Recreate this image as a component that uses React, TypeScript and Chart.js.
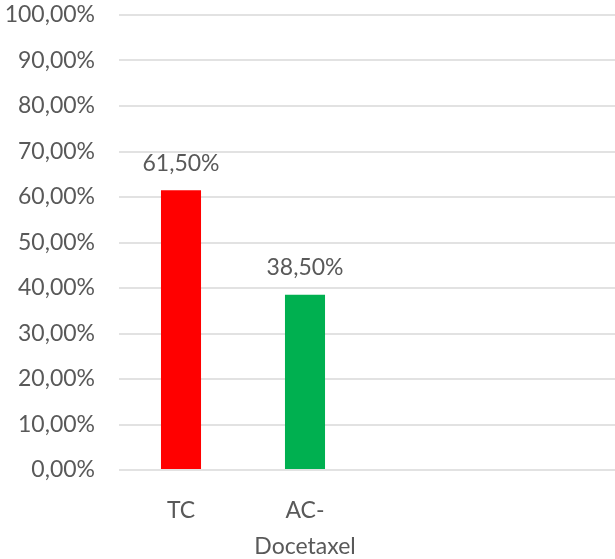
import React, { useEffect, useRef } from "react";
import { Chart, registerables } from "chart.js";

Chart.register(...registerables);

// Regimens compared, with two empty slots kept on the axis
const categories: (string | string[])[] = ["TC", ["AC-", "Docetaxel"], "", ""];
// Share of patients per regimen, in percent
const shares: (number | null)[] = [61.5, 38.5, null, null];
const barColors = ["#FF0000", "#00B050", "#FF0000", "#00B050"];
// Y axis range and step, in percent
const yMin = 0;
const yMax = 100;
const yStep = 10;

const textColor = "#595959";
const gridColor = "#E2E2E2";
const fontFamily = "Lato, 'Open Sans', sans-serif";
const fontSize = 23;

const fmtPct = (v: number) => v.toFixed(2).replace(".", ",") + "%";

// Writes each bar's value above it
const valueLabels = {
  id: "valueLabels",
  afterDatasetsDraw(chart: any) {
    const { ctx } = chart;
    const meta = chart.getDatasetMeta(0);
    ctx.save();
    ctx.font = `${fontSize}px ${fontFamily}`;
    ctx.fillStyle = textColor;
    ctx.textAlign = "center";
    ctx.textBaseline = "middle";
    meta.data.forEach((bar: any, i: number) => {
      const v = shares[i];
      if (v == null) return;
      ctx.fillText(fmtPct(v), bar.x, bar.y - 27);
    });
    ctx.restore();
  },
};

export default function App() {
  const canvasRef = useRef<HTMLCanvasElement | null>(null);

  useEffect(() => {
    document.body.style.margin = "0";
    const canvas = canvasRef.current;
    if (!canvas) return;
    const chart = new Chart(canvas, {
      type: "bar",
      data: {
        labels: categories,
        datasets: [
          {
            data: shares,
            backgroundColor: barColors,
            borderWidth: 0,
            categoryPercentage: 1,
            barPercentage: 0.323,
          },
        ],
      },
      options: {
        animation: false,
        responsive: false,
        maintainAspectRatio: false,
        layout: { padding: 0 },
        plugins: {
          legend: { display: false },
          tooltip: { enabled: false },
        },
        scales: {
          x: {
            grid: { display: false, drawTicks: false },
            border: { display: false },
            ticks: {
              color: textColor,
              font: { family: fontFamily, size: fontSize, lineHeight: 1.55 },
              padding: 23,
              maxRotation: 0,
              autoSkip: false,
            },
            afterFit: (scale: any) => {
              scale.height = 89;
              scale.paddingLeft = 0;
              scale.paddingRight = 0;
            },
          },
          y: {
            min: yMin,
            max: yMax,
            grid: { color: gridColor, lineWidth: 2, drawTicks: false },
            border: { display: false },
            ticks: {
              stepSize: yStep,
              color: textColor,
              font: { family: fontFamily, size: fontSize },
              padding: 24,
              callback: (v: any) => fmtPct(Number(v)),
            },
            afterFit: (scale: any) => {
              scale.width = 119;
              scale.paddingTop = 15;
              scale.paddingBottom = 0;
            },
          },
        },
      },
      plugins: [valueLabels],
    });
    return () => chart.destroy();
  }, []);

  return (
    <div style={{ width: 615, height: 559 }}>
      <canvas ref={canvasRef} width={615} height={559} style={{ display: "block" }} />
    </div>
  );
}
